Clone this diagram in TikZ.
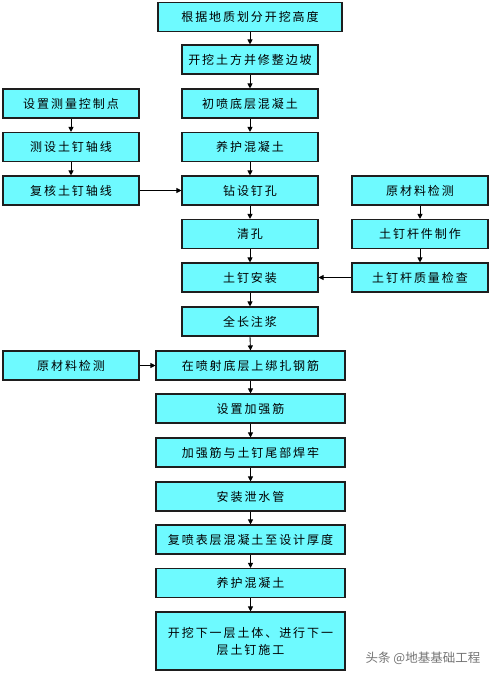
\documentclass[tikz,border=0pt]{standalone}
\usepackage{fontspec}
\newfontfamily\cjk[LetterSpace=16]{Noto Sans CJK SC}
\newfontfamily\cjkplain{Noto Sans CJK SC}
\usetikzlibrary{arrows.meta}
\definecolor{boxfill}{RGB}{110,250,255}
\definecolor{boxline}{RGB}{30,30,30}
\tikzset{
  box/.style={draw=boxline, line width=1.1pt, fill=boxfill, inner sep=0pt,
    font=\cjk\fontsize{12}{17}\selectfont, align=center, minimum height=29pt},
  mainw/.style={minimum width=136pt},
  widew/.style={minimum width=184pt},
  widerw/.style={minimum width=189pt},
  flow/.style={draw=black, line width=0.9pt, -{Triangle[length=5pt,width=5pt]}},
}
\begin{document}
\begin{tikzpicture}[x=1pt,y=-1pt]
\useasboundingbox (0,0) rectangle (492,676);
% main column
\node[box,widew]  (m1)  at (250,17)    {根据地质划分开挖高度};
\node[box,mainw]  (m2)  at (250,59.5)  {开挖土方并修整边坡};
\node[box,mainw]  (m3)  at (250,103.5) {初喷底层混凝土};
\node[box,mainw]  (m4)  at (250,147)   {养护混凝土};
\node[box,mainw]  (m5)  at (250,190.5) {钻设钉孔};
\node[box,mainw]  (m6)  at (250,234)   {清孔};
\node[box,mainw]  (m7)  at (250,277.5) {土钉安装};
\node[box,mainw]  (m8)  at (250,321.5) {全长注浆};
\node[box,widerw] (m9)  at (250.5,365.5) {在喷射底层上绑扎钢筋};
\node[box,widerw] (m10) at (250.5,408.5) {设置加强筋};
\node[box,widerw] (m11) at (250.5,452.5) {加强筋与土钉尾部焊牢};
\node[box,widerw] (m12) at (250.5,496.5) {安装泄水管};
\node[box,widerw] (m13) at (250.5,539.5) {复喷表层混凝土至设计厚度};
\node[box,widerw] (m14) at (250.5,583)   {养护混凝土};
\node[box,widerw,minimum height=58pt] (m15) at (250.5,641) {开挖下一层土体、进行下一\\层土钉施工};
% left column
\node[box,mainw] (l1) at (71,103.5) {设置测量控制点};
\node[box,mainw] (l2) at (71,147)   {测设土钉轴线};
\node[box,mainw] (l3) at (71,190.5) {复核土钉轴线};
\node[box,mainw] (l4) at (71,365.5) {原材料检测};
% right column
\node[box,mainw] (r1) at (420,190.5) {原材料检测};
\node[box,mainw] (r2) at (420,234)   {土钉杆件制作};
\node[box,mainw] (r3) at (420,277.5) {土钉杆质量检查};
% connectors
\foreach \a/\b in {m1/m2,m2/m3,m3/m4,m4/m5,m5/m6,m6/m7,m7/m8,m8/m9,m9/m10,m10/m11,m11/m12,m12/m13,m13/m14,m14/m15,l1/l2,l2/l3,r1/r2,r2/r3}
  \draw[flow] (\a.south) -- (\b.north);
\draw[flow] (l3.east) -- (m5.west);
\draw[flow] (r3.west) -- (m7.east);
\draw[flow] (l4.east) -- (m9.west);
% watermark
\node[text=black!55, font=\cjkplain\fontsize{12.5}{14}\selectfont, inner sep=0pt] (wm) at (423,658) {头条 @地基基础工程};
\end{tikzpicture}
\end{document}
